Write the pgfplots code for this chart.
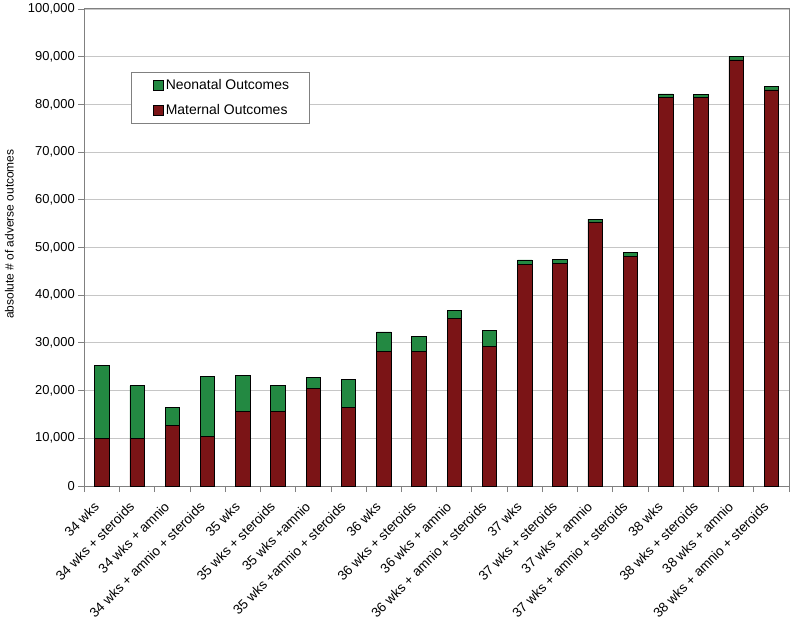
\documentclass[border=0pt]{standalone}
\usepackage{fontspec}
\setmainfont{Liberation Sans}
\usepackage{pgfplots}
\pgfplotsset{compat=1.18}
\definecolor{mat}{RGB}{123,20,22}
\definecolor{neo}{RGB}{35,137,66}
\pgfplotsset{sqleg/.style={legend image code/.code={\path (0bp,0bp); \draw[##1,draw=black,line width=0.8bp] (4bp,-5bp) rectangle (14bp,5bp);}}}
\begin{document}
\begin{tikzpicture}
\begin{axis}[name=ax,
  width=704.7bp, height=477bp, scale only axis,
  ybar stacked, bar width=0.41,
  xmin=-0.5, xmax=19.5, ymin=0, ymax=100000,
  ytick={0,10000,20000,30000,40000,50000,60000,70000,80000,90000,100000},
  yticklabels={0,{10,000},{20,000},{30,000},{40,000},{50,000},{60,000},{70,000},{80,000},{90,000},{100,000}},
  scaled y ticks=false,
  xtick={0,...,19},
  xticklabels={34 wks, 34 wks + steroids, 34 wks + amnio, 34 wks + amnio + steroids,
    35 wks, 35 wks + steroids, 35 wks +amnio, 35 wks +amnio + steroids,
    36 wks, 36 wks + steroids, 36 wks + amnio, 36 wks + amnio + steroids,
    37 wks, 37 wks + steroids, 37 wks + amnio, 37 wks + amnio + steroids,
    38 wks, 38 wks + steroids, 38 wks + amnio, 38 wks + amnio + steroids},
  major x tick style={draw=none},
  minor xtick={-0.5,0.5,...,19.5},
  xtick pos=bottom, ytick pos=left,
  tick align=outside,
  major tick length=6bp, minor tick length=6bp,
  tick style={gray, line width=0.8bp},
  ymajorgrids, grid style={gray!45, line width=0.8bp},
  axis line style={gray, line width=1bp},
  x tick label style={yshift=-10bp, xshift=-3bp, rotate=45, anchor=east, font=\fontsize{13.5}{15}\selectfont},
  y tick label style={font=\fontsize{13}{15}\selectfont},
  ylabel={absolute \# of adverse outcomes},
  every axis y label/.style={at={(rel axis cs:-0.1064,0.528)}, rotate=90, anchor=center, font=\fontsize{12}{14}\selectfont},
  legend style={at={(rel axis cs:0.066,0.868)}, anchor=north west, draw=gray, fill=white,
    font=\fontsize{14}{16}\selectfont, inner xsep=18bp, inner ysep=5bp, row sep=10bp},
  legend cell align=left, reverse legend,
]
\addplot[fill=mat, draw=black, line width=0.8bp, sqleg] coordinates {
(0,10000) (1,10000) (2,12650) (3,10420) (4,15720) (5,15720) (6,20480) (7,16500)
(8,28300) (9,28300) (10,35150) (11,29280) (12,46540) (13,46600) (14,55350) (15,48070)
(16,81490) (17,81410) (18,89310) (19,83020)};
\addlegendentry{Maternal Outcomes}
\addplot[fill=neo, draw=black, line width=0.8bp, sqleg] coordinates {
(0,15200) (1,11000) (2,3910) (3,12580) (4,7480) (5,5380) (6,2370) (7,5930)
(8,3990) (9,3000) (10,1610) (11,3290) (12,840) (13,920) (14,620) (15,920)
(16,690) (17,700) (18,690) (19,780)};
\addlegendentry{Neonatal Outcomes}
\end{axis}
\pgfresetboundingbox
\path[use as bounding box] ([shift={(-84.3bp,-145bp)}]ax.south west) rectangle ([shift={(6bp,9bp)}]ax.north east);
\end{tikzpicture}
\end{document}
